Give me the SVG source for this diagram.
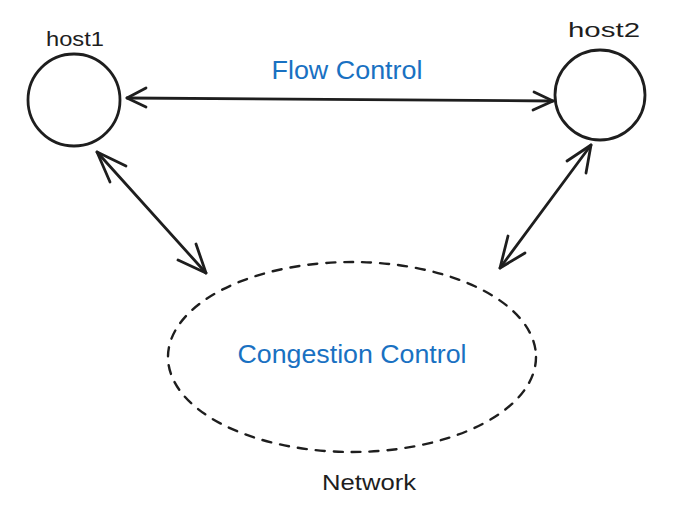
<svg xmlns="http://www.w3.org/2000/svg" width="680" height="508" viewBox="0 0 680 508">
<style>
.shape{fill:none;stroke:#1e1e1e;stroke-width:2.8;stroke-linecap:round;stroke-linejoin:round}
.dash{fill:none;stroke:#1e1e1e;stroke-width:2.4;stroke-dasharray:9 9;stroke-linecap:round}
.lbl{font-family:"Liberation Sans",sans-serif;fill:#1e1e1e;text-anchor:middle}
.blue{fill:#1971c2}
</style>
<rect width="680" height="508" fill="#ffffff"/>
<g id="host1">
<circle class="shape" cx="74" cy="100" r="46"/>
<text class="lbl" x="75" y="46" font-size="21" textLength="58" lengthAdjust="spacingAndGlyphs">host1</text>
</g>
<g id="host2">
<circle class="shape" cx="600" cy="95" r="45"/>
<text class="lbl" x="604" y="37" font-size="21" textLength="72" lengthAdjust="spacingAndGlyphs">host2</text>
</g>
<g id="network">
<ellipse class="dash" cx="352" cy="357" rx="184" ry="95"/>
<text class="lbl blue" x="352" y="363" font-size="25" textLength="229" lengthAdjust="spacingAndGlyphs">Congestion Control</text>
<text class="lbl" x="369" y="490" font-size="22" textLength="94" lengthAdjust="spacingAndGlyphs">Network</text>
</g>
<g id="connectors">
<path class="shape" d="M127 98 L553 101"/>
<path class="shape" d="M146 88 L127 98 L146 107"/>
<path class="shape" d="M534 92 L553 101 L533 110"/>
<text class="lbl blue" x="347" y="79" font-size="25" textLength="151" lengthAdjust="spacingAndGlyphs">Flow Control</text>
<path class="shape" d="M97 152 L206 273"/>
<path class="shape" d="M126 166 L97 152 L110 182"/>
<path class="shape" d="M178 260 L206 273 L196 244"/>
<path class="shape" d="M591 145 L500 268"/>
<path class="shape" d="M567 161 L591 145 L586 173"/>
<path class="shape" d="M508 236 L500 268 L525 253"/>
</g>
</svg>
